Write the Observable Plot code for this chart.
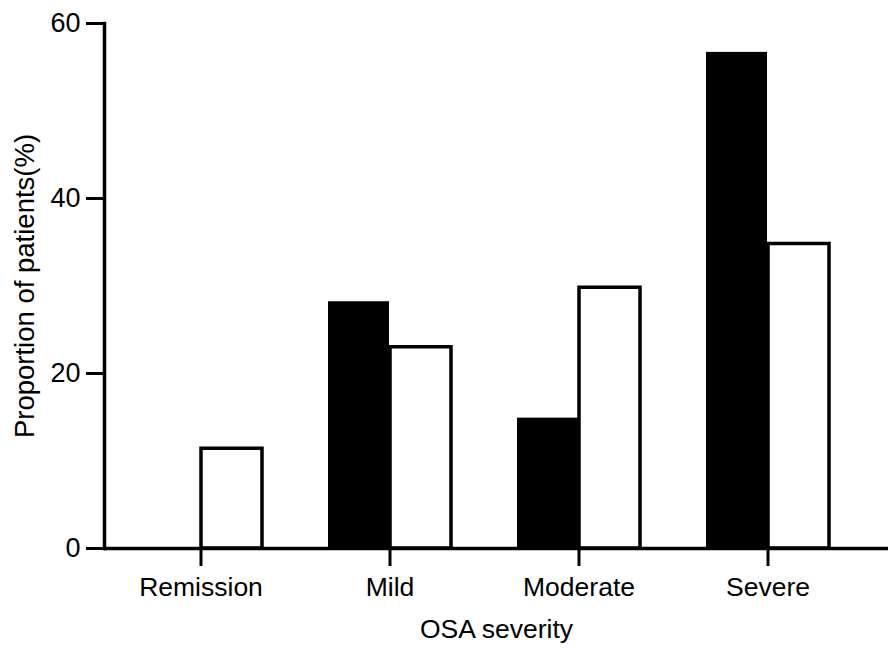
<!DOCTYPE html>
<html>
<head>
<meta charset="utf-8">
<script src="https://cdn.jsdelivr.net/npm/d3@7"></script>
<script src="https://cdn.jsdelivr.net/npm/@observablehq/plot@0.6"></script>
<style>
  html, body { margin: 0; padding: 0; background: #fff; }
  svg { display: block; }
</style>
</head>
<body>
<div id="chart"></div>
<script>
const categories = ["Remission", "Mild", "Moderate", "Severe"];
const seriesNames = ["Group 1", "Group 2"];
const blackValues = [0, 28.2, 14.9, 56.7];
const whiteValues = [11.4, 23.0, 29.8, 34.8];
const yTicks = [0, 20, 40, 60];
const xTitle = "OSA severity";
const yTitle = "Proportion of patients(%)";

const blackData = categories.map((c, i) => ({category: c, series: seriesNames[0], value: blackValues[i]}));
const whiteData = categories.map((c, i) => ({category: c, series: seriesNames[1], value: whiteValues[i]}));

const font = "'Liberation Sans', Arial, sans-serif";

const chart = Plot.plot({
  width: 888,
  height: 648,
  marginLeft: 104,
  marginRight: 0,
  marginTop: 23,
  marginBottom: 100,
  style: {fontFamily: font, background: "#fff", color: "#000"},
  x: {domain: categories, range: [104, 864], paddingInner: 0.347, paddingOuter: 0.174},
  y: {domain: [0, 60]},
  marks: [
    Plot.barY(blackData, {x: "category", y: "value", fill: "#000", insetRight: 62}),
    Plot.barY(whiteData, {x: "category", y: "value", fill: "#fff", stroke: "#000", strokeWidth: 3.5, insetLeft: 62}),
    Plot.ruleY([0], {stroke: "#000", strokeWidth: 3.5}),
    Plot.frame({anchor: "left", stroke: "#000", strokeWidth: 3.5}),
    Plot.axisY({ticks: yTicks, tickSize: 18, tickPadding: 6, strokeWidth: 3, fontSize: 27, label: null}),
    Plot.axisX({tickSize: 18, tickPadding: 11, strokeWidth: 3, fontSize: 26.5, label: null}),
    Plot.text([yTitle], {frameAnchor: "left", rotate: -90, dx: -79, fontSize: 27.5, fill: "#000", textAnchor: "middle"}),
    Plot.text([xTitle], {frameAnchor: "bottom", dy: 89, fontSize: 26.5, fill: "#000", textAnchor: "middle"})
  ]
});
document.getElementById("chart").appendChild(chart);
</script>
</body>
</html>
